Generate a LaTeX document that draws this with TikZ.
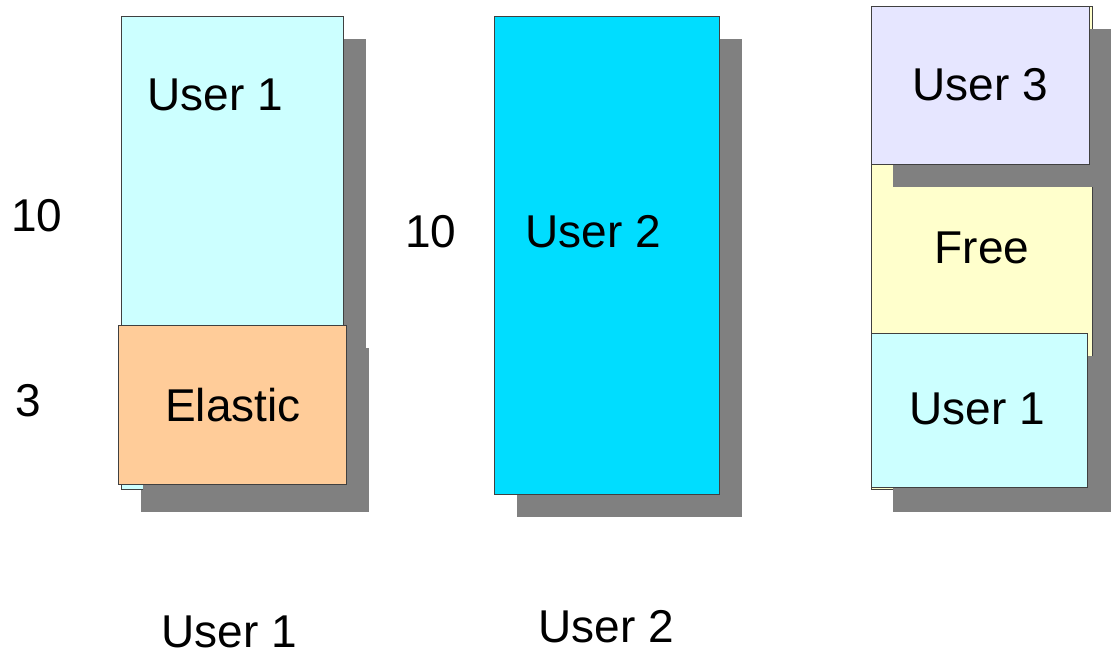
\documentclass[tikz,border=0pt]{standalone}
\usepackage{fontspec}
\setmainfont{Liberation Sans}
\definecolor{cyanlight}{HTML}{CCFFFF}
\definecolor{cyandeep}{HTML}{00DDFF}
\definecolor{peach}{HTML}{FFCC99}
\definecolor{lav}{HTML}{E6E6FF}
\definecolor{paleyellow}{HTML}{FFFFCC}
\definecolor{shadowgray}{HTML}{808080}
\definecolor{edge}{HTML}{404040}
\begin{document}
\begin{tikzpicture}[x=1pt,y=-1pt,
  shade box/.style={fill=shadowgray,draw=none},
  mem box/.style={draw=edge,line width=0.9pt},
  lbl/.style={font=\fontsize{46}{50}\selectfont,inner sep=0pt,text=black}]
\useasboundingbox (0,0) rectangle (1111,654);
\clip (0,0) rectangle (1111,654);
% ---- left column
\path[shade box] (141,39) rectangle (366,512);
\path[mem box,fill=cyanlight] (121,16) rectangle (343,489);
\path[shade box] (143,348) rectangle (369,512);
\path[mem box,fill=peach] (118,325) rectangle (346,484);
\node[lbl] (u1top) at (215,95) {User 1};
\node[lbl] (elastic) at (233,405) {Elastic};
\node[lbl] (ten1) at (37,216) {10};
\node[lbl] (three) at (28,401) {3};
% ---- middle column
\path[shade box] (517,39) rectangle (742,517);
\path[mem box,fill=cyandeep] (494,16) rectangle (719,494);
\node[lbl] (ten2) at (431,232) {10};
\node[lbl] (u2) at (593,232) {User 2};
% ---- right column
\path[shade box] (893,29) rectangle (1120,512);
\path[mem box,fill=paleyellow] (871,6) rectangle (1092,489);
\path[shade box] (893,29) rectangle (1120,187);
\path[mem box,fill=lav] (871,6) rectangle (1089,164);
\path[shade box] (893,356) rectangle (1120,512);
\path[mem box,fill=cyanlight] (871,333) rectangle (1087,487);
\node[lbl] (u3) at (980,85) {User 3};
\node[lbl] (free) at (982,248) {Free};
\node[lbl] (u1r) at (977,409) {User 1};
% ---- captions
\node[lbl] (cap1) at (229,632) {User 1};
\node[lbl] (cap2) at (606,627) {User 2};
\end{tikzpicture}
\end{document}
